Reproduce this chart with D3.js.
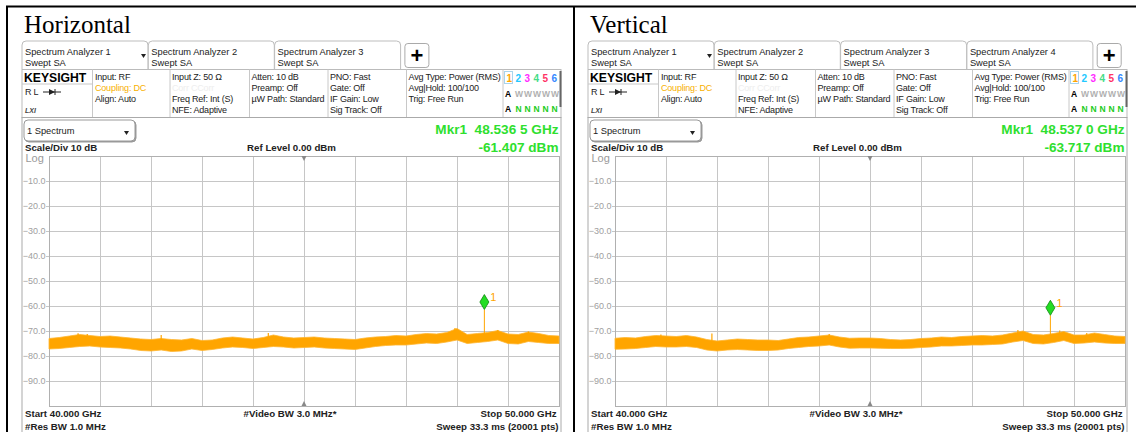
<!DOCTYPE html>
<meta charset="utf-8">
<style>
body{ margin:0; background:#fff; }
text{ font-family:"Liberation Sans", Arial, sans-serif; }
.info{ font-size:9px; letter-spacing:-0.2px; fill:#222; }
.tab{ font-size:9.3px; fill:#222; }
.lab{ font-size:9.7px; font-weight:bold; fill:#222; }
.bold{ font-weight:bold; }
.grid line{ stroke:#c6c6c6; stroke-width:1; shape-rendering:crispEdges; }
.ylab{ font-size:9px; fill:#a0a0a0; }
</style>
<body>
<div id="chart"></div>
<script src="https://d3js.org/d3.v7.min.js"></script>
<script>
// sweep and axis
var sweep = [40, 50];            // GHz
var refRange = [-100, 0];        // dBm
var yTicks = [-10, -20, -30, -40, -50, -60, -70, -80, -90];
var xTicks = [41, 42, 43, 44, 45, 46, 47, 48, 49];

// noise band, one value each 0.2 GHz (40 .. 50)
var horizUpper = [-73.0,-72.6,-72.0,-71.4,-71.8,-72.2,-72.0,-72.4,-72.8,-73.2,-73.4,-73.0,-73.4,-73.6,-73.0,-73.8,-73.6,-72.8,-72.4,-72.8,-73.2,-72.6,-71.6,-72.4,-72.8,-72.6,-72.4,-72.8,-73.0,-73.2,-73.4,-72.8,-72.4,-72.2,-71.8,-72.0,-71.4,-71.0,-71.2,-70.6,-69.0,-71.4,-71.0,-70.6,-69.8,-71.2,-71.4,-70.4,-71.0,-71.8,-72.0];
var horizLower = [-77.2,-77.0,-76.6,-76.2,-76.0,-76.4,-76.6,-76.8,-77.2,-77.8,-78.0,-77.6,-78.2,-78.0,-77.2,-77.8,-77.4,-76.8,-76.4,-76.6,-77.0,-76.6,-76.2,-76.4,-76.8,-76.6,-76.4,-76.8,-77.0,-77.2,-77.4,-76.8,-76.2,-75.8,-75.6,-75.6,-75.2,-74.8,-75.0,-74.4,-73.6,-75.0,-74.6,-74.2,-73.6,-75.0,-75.2,-74.2,-74.6,-75.0,-75.0];
var vertUpper = [-72.9,-72.6,-72.8,-72.2,-71.8,-72.0,-72.2,-71.8,-72.4,-73.4,-74.0,-73.6,-73.2,-73.4,-73.6,-73.6,-73.8,-73.2,-72.6,-72.4,-72.0,-71.6,-72.4,-72.9,-72.8,-72.8,-73.0,-73.4,-73.6,-73.4,-73.0,-72.8,-72.4,-72.6,-72.2,-72.0,-71.8,-72.0,-71.6,-70.8,-70.0,-71.4,-71.6,-71.0,-70.2,-71.6,-71.6,-70.8,-71.4,-72.0,-72.2];
var vertLower = [-77.3,-77.2,-77.0,-76.6,-76.2,-76.4,-76.4,-76.2,-76.6,-77.6,-78.0,-77.6,-77.4,-77.6,-77.8,-77.8,-77.6,-77.0,-76.6,-76.2,-76.0,-75.6,-76.4,-76.9,-76.8,-76.8,-76.9,-77.0,-77.0,-76.9,-76.6,-76.4,-76.0,-76.0,-75.8,-75.6,-75.6,-75.4,-75.2,-74.4,-73.8,-75.0,-75.2,-74.6,-73.8,-75.0,-74.8,-74.4,-74.8,-75.0,-75.0];

// a few single spikes above the band [GHz, dBm]
var horizSpikes = [[40.57,-70.9],[40.75,-71.2],[42.2,-71.6],[44.3,-70.8],[47.96,-68.8],[48.8,-69.6],[49.4,-70.2]];
var vertSpikes = [[40.9,-71.4],[41.9,-71.0],[44.2,-71.2],[47.9,-69.6],[48.72,-69.8],[49.25,-70.8]];

// marker 1
var horizMarker = [48.5365, -61.407];
var vertMarker = [48.537, -63.717];
var horizMarkerText = ["Mkr1  48.536 5 GHz", "-61.407 dBm"];
var vertMarkerText = ["Mkr1  48.537 0 GHz", "-63.717 dBm"];

var panelTitles = ["Horizontal", "Vertical"];
var tabCounts = [3, 4];

var traceNums = ["1", "2", "3", "4", "5", "6"];
var traceColors = ["#ffa500", "#22c8ff", "#ff2cff", "#44dd88", "#ff3366", "#3388ff"];

var infoCols = [
  {x: 95,    rows: [["Input: RF", "#222"], ["Coupling: DC", "#f7b000"], ["Align: Auto", "#222"]]},
  {x: 172,   rows: [["Input Z: 50 \u03a9", "#222"], ["Corr CCorr", "#eeeeee"], ["Freq Ref: Int (S)", "#222"], ["NFE: Adaptive", "#222"]]},
  {x: 251.5, rows: [["Atten: 10 dB", "#222"], ["Preamp: Off", "#222"], ["\u00b5W Path: Standard", "#222"]]},
  {x: 330,   rows: [["PNO: Fast", "#222"], ["Gate: Off", "#222"], ["IF Gain: Low", "#222"], ["Sig Track: Off", "#222"]]},
  {x: 408.5, rows: [["Avg Type: Power (RMS)", "#222"], ["Avg|Hold: 100/100", "#222"], ["Trig: Free Run", "#222"]]}
];
var colSeps = [92.5, 170, 249.5, 328, 406.5, 503];

var svg = d3.select("#chart").append("svg").attr("width", 1136).attr("height", 432);

// black table lines of the page
svg.append("line").attr("x1", 6).attr("x2", 1136).attr("y1", 6.5).attr("y2", 6.5).attr("stroke", "#000").attr("stroke-width", 2);
svg.append("line").attr("x1", 7).attr("x2", 7).attr("y1", 6).attr("y2", 432).attr("stroke", "#000").attr("stroke-width", 2);
svg.append("line").attr("x1", 574).attr("x2", 574).attr("y1", 6).attr("y2", 432).attr("stroke", "#000").attr("stroke-width", 2);

function drawPanel(ox, title, nTabs, upper, lower, spikes, marker, mtext){
  var g = svg.append("g").attr("transform", "translate(" + ox + ",0)");

  g.append("text").attr("x", 24).attr("y", 32.5).style("font-family", "'Liberation Serif', 'Times New Roman', serif")
    .style("font-size", "25px").text(title);

  // tabs
  for (var i = 0; i < nTabs; i++) {
    var x0 = 22 + i * 126.3, w = 126;
    g.append("path").attr("d", "M" + x0 + ",69 V45 q0,-4 4,-4 H" + (x0 + w - 4) + " q4,0 4,4 V69")
      .attr("fill", "#fff").attr("stroke", "#bdbdbd");
    g.append("text").attr("class", "tab").attr("x", x0 + 3).attr("y", 54.5).text("Spectrum Analyzer " + (i + 1));
    g.append("text").attr("class", "tab").attr("x", x0 + 3).attr("y", 65.5).text("Swept SA");
    if (i == 0) g.append("path").attr("d", "M" + (x0 + 119) + ",54 h5 l-2.5,4 z").attr("fill", "#222");
  }
  var px = 22 + nTabs * 126.3 + 4;
  g.append("rect").attr("x", px).attr("y", 43.5).attr("width", 24).attr("height", 24).attr("rx", 3)
    .attr("fill", "#fff").attr("stroke", "#aaa");
  g.append("text").attr("x", px + 12).attr("y", 62.5).attr("text-anchor", "middle").attr("class", "bold")
    .style("font-size", "22px").text("+");

  // info bar
  g.append("rect").attr("x", 22).attr("y", 69.5).attr("width", 539).attr("height", 48).attr("fill", "#fff").attr("stroke", "#bbb");
  colSeps.forEach(function(s){
    g.append("line").attr("x1", s).attr("x2", s).attr("y1", 69.5).attr("y2", 117.5).attr("stroke", "#c8c8c8");
  });
  g.append("line").attr("x1", 22).attr("x2", 92.5).attr("y1", 84).attr("y2", 84).attr("stroke", "#c8c8c8");
  g.append("text").attr("x", 24).attr("y", 81.5).attr("class", "bold").style("font-size", "12.2px").text("KEYSIGHT");
  g.append("text").attr("class", "info").attr("x", 25).attr("y", 95).text("R L");
  g.append("line").attr("x1", 43).attr("x2", 61).attr("y1", 92).attr("y2", 92).attr("stroke", "#222");
  g.append("path").attr("d", "M49,89 L55,92 L49,95 z").attr("fill", "#222");
  g.append("line").attr("x1", 55).attr("x2", 55).attr("y1", 89).attr("y2", 95).attr("stroke", "#222");
  g.append("text").attr("x", 25).attr("y", 113).style("font-size", "7px").style("font-style", "italic")
    .attr("class", "bold").attr("fill", "#444").text("LXI");

  infoCols.forEach(function(c){
    c.rows.forEach(function(r, j){
      g.append("text").attr("class", "info").attr("x", c.x).attr("y", 80 + j * 10.9).style("fill", r[1]).text(r[0]);
    });
  });

  // trace indicators
  var tx = d3.scaleBand().domain(traceNums).range([505, 559]);
  g.append("rect").attr("x", 504.5).attr("y", 71.5).attr("width", 8).attr("height", 12).attr("fill", "none").attr("stroke", "#a8d4ee");
  g.selectAll(".tn").data(traceNums).join("text").attr("class", "bold")
    .attr("x", d => tx(d) + 1.5).attr("y", 81.5).style("font-size", "10px")
    .attr("fill", (d, k) => traceColors[k]).text(d => d);
  g.append("text").attr("class", "bold").attr("x", 505).attr("y", 97).style("font-size", "8.5px").text("A");
  g.append("text").attr("class", "bold").attr("x", 505).attr("y", 112).style("font-size", "8.5px").text("A");
  traceNums.slice(1).forEach(function(d){
    g.append("text").attr("class", "bold").attr("x", tx(d) + 1).attr("y", 97).style("font-size", "8.5px").attr("fill", "#b0b0b0").text("W");
    g.append("text").attr("class", "bold").attr("x", tx(d) + 1.5).attr("y", 112).style("font-size", "8.5px").attr("fill", "#22cc22").text("N");
  });
  g.append("rect").attr("x", 559.5).attr("y", 71).attr("width", 2).attr("height", 36).attr("fill", "#666");

  // display frame
  g.append("rect").attr("x", 22).attr("y", 117.5).attr("width", 539).attr("height", 330).attr("fill", "none").attr("stroke", "#aaa");
  g.append("rect").attr("x", 24).attr("y", 120).attr("width", 111).attr("height", 21).attr("rx", 4)
    .attr("fill", "#fff").attr("stroke", "#999").style("filter", "drop-shadow(1px 1px 0.5px #999)");
  g.append("text").attr("class", "tab").attr("x", 27).attr("y", 134).text("1 Spectrum");
  g.append("path").attr("d", "M124,131 h5 l-2.5,4 z").attr("fill", "#222");

  g.append("text").attr("x", 558.5).attr("y", 133.5).attr("text-anchor", "end").attr("class", "bold")
    .style("font-size", "13.6px").style("white-space", "pre").attr("fill", "#2ee02e").text(mtext[0]);
  g.append("text").attr("x", 558.5).attr("y", 152).attr("text-anchor", "end").attr("class", "bold")
    .style("font-size", "13.6px").attr("fill", "#2ee02e").text(mtext[1]);
  g.append("text").attr("class", "lab").attr("x", 25).attr("y", 150.5).text("Scale/Div 10 dB");
  g.append("text").attr("class", "lab").attr("x", 291.5).attr("y", 150.5).attr("text-anchor", "middle").text("Ref Level 0.00 dBm");
  g.append("text").attr("x", 25.5).attr("y", 161.5).style("font-size", "11px").attr("fill", "#9a9a9a").text("Log");

  // plot
  var x = d3.scaleLinear().domain(sweep).range([49, 559]);
  var y = d3.scaleLinear().domain(refRange).range([406, 156]);
  var idx = d3.scaleLinear().domain([0, upper.length - 1]).range(sweep);

  var grid = g.append("g").attr("class", "grid");
  grid.selectAll(".v").data(xTicks).join("line")
    .attr("x1", d => x(d)).attr("x2", d => x(d)).attr("y1", y(0)).attr("y2", y(-100));
  grid.selectAll(".h").data(yTicks).join("line")
    .attr("x1", 46).attr("x2", x(50)).attr("y1", d => y(d)).attr("y2", d => y(d));
  g.append("rect").attr("x", x(40)).attr("y", y(0)).attr("width", x(50) - x(40)).attr("height", y(-100) - y(0))
    .attr("fill", "none").attr("stroke", "#b0b0b0").style("shape-rendering", "crispEdges");
  g.selectAll(".ylab").data(yTicks).join("text").attr("class", "ylab")
    .attr("x", 45.5).attr("y", d => y(d)).attr("dy", "0.35em").attr("text-anchor", "end")
    .text(d => d3.format(".1f")(d));

  var cx = x(d3.mean(sweep));
  g.append("path").attr("d", "M" + (cx - 2.5) + "," + y(0) + " h5 l-2.5,5 z").attr("fill", "#888");
  g.append("path").attr("d", "M" + (cx - 2.5) + "," + y(-100) + " h5 l-2.5,-5 z").attr("fill", "#888");

  // trace
  var area = d3.area().x((d, k) => x(idx(k))).y0((d, k) => y(lower[k])).y1(d => y(d));
  g.append("path").datum(upper).attr("d", area).attr("fill", "#ffa500")
    .attr("stroke", "#ffb52e").attr("stroke-width", 0.8);
  var band = d3.scaleLinear().domain(upper.map((d, k) => idx(k))).range(upper);
  g.selectAll(".spk").data(spikes).join("line")
    .attr("x1", d => x(d[0])).attr("x2", d => x(d[0]))
    .attr("y1", d => y(d[1])).attr("y2", d => y(band(d[0])) + 2)
    .attr("stroke", "#ffa500").attr("stroke-width", 1.2);

  // marker 1
  var mx = x(marker[0]), my = y(marker[1]);
  g.append("line").attr("x1", mx).attr("x2", mx).attr("y1", my).attr("y2", y(band(marker[0])) + 2)
    .attr("stroke", "#ffa500").attr("stroke-width", 1);
  g.append("path").attr("d", "M" + mx + "," + my + " l-4.5,-7.5 l4.5,-7.5 l4.5,7.5 z")
    .attr("fill", "#22dd22").attr("stroke", "#118811").attr("stroke-width", 0.8);
  g.append("text").attr("x", mx + 6).attr("y", my - 8.5).style("font-size", "11px").attr("fill", "#ffa500").text("1");

  // bottom annotations
  g.append("text").attr("class", "lab").attr("x", 25).attr("y", 417).text("Start 40.000 GHz");
  g.append("text").attr("class", "lab").attr("x", 25).attr("y", 429.5).text("#Res BW 1.0 MHz");
  g.append("text").attr("class", "lab").attr("x", 290).attr("y", 417).attr("text-anchor", "middle").text("#Video BW 3.0 MHz*");
  g.append("text").attr("class", "lab").attr("x", 556.5).attr("y", 417).attr("text-anchor", "end").text("Stop 50.000 GHz");
  g.append("text").attr("class", "lab").attr("x", 558.5).attr("y", 429.5).attr("text-anchor", "end").text("Sweep 33.3 ms (20001 pts)");
}

drawPanel(0, panelTitles[0], tabCounts[0], horizUpper, horizLower, horizSpikes, horizMarker, horizMarkerText);
drawPanel(566, panelTitles[1], tabCounts[1], vertUpper, vertLower, vertSpikes, vertMarker, vertMarkerText);
</script>
</body>
</html>
